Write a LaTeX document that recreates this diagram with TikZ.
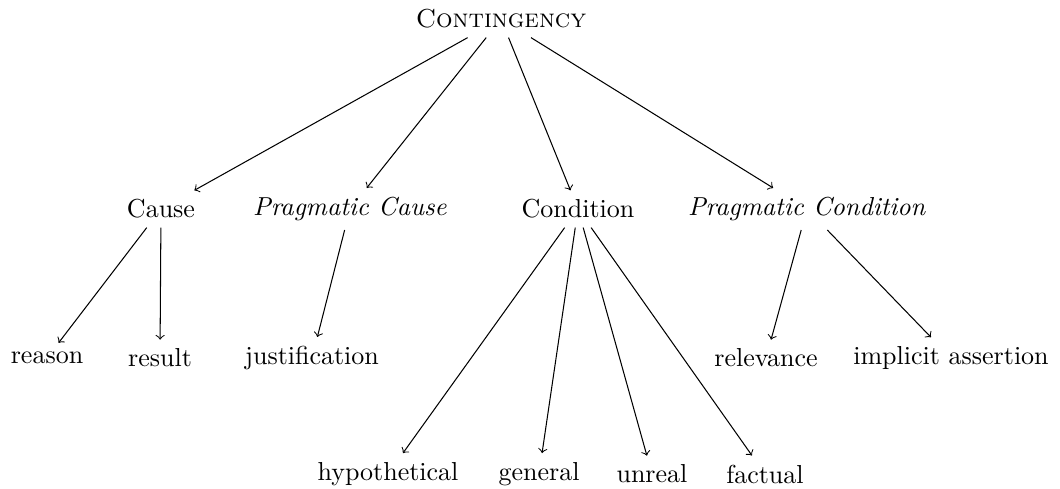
\documentclass[tikz,border=0pt]{standalone}
\begin{document}
\begin{tikzpicture}[x=0.384615pt,y=-0.384615pt,
  lbl/.style={inner sep=3.33pt},
  edge/.style={->, line width=0.4pt}]
\useasboundingbox (0,0) rectangle (1060,489);
\node[lbl] (cont) at (501,19) {\textsc{Contingency}};
\node[lbl] (cause) at (161,209) {Cause};
\node[lbl] (pcause) at (350,209) {\textit{Pragmatic Cause}};
\node[lbl] (cond) at (578,209) {Condition};
\node[lbl] (pcond) at (807,209) {\textit{Pragmatic Condition}};
\node[lbl] (reason) at (47,358) {reason};
\node[lbl] (result) at (160,358) {result};
\node[lbl] (just) at (312,358) {justification};
\node[lbl] (rel) at (766,358) {relevance};
\node[lbl] (impl) at (951,358) {implicit assertion};
\node[lbl] (hyp) at (388,474) {hypothetical};
\node[lbl] (gen) at (539,474) {general};
\node[lbl] (unr) at (652,474) {unreal};
\node[lbl] (fact) at (765,474) {factual};
\draw[edge] (cont) -- (cause);
\draw[edge] (cont) -- (pcause);
\draw[edge] (cont) -- (cond);
\draw[edge] (cont) -- (pcond);
\draw[edge] (cause) -- (reason);
\draw[edge] (cause) -- (result);
\draw[edge] (pcause) -- (just);
\draw[edge] (cond) -- (hyp);
\draw[edge] (cond) -- (gen);
\draw[edge] (cond) -- (unr);
\draw[edge] (cond) -- (fact);
\draw[edge] (pcond) -- (rel);
\draw[edge] (pcond) -- (impl);
\end{tikzpicture}
\end{document}
